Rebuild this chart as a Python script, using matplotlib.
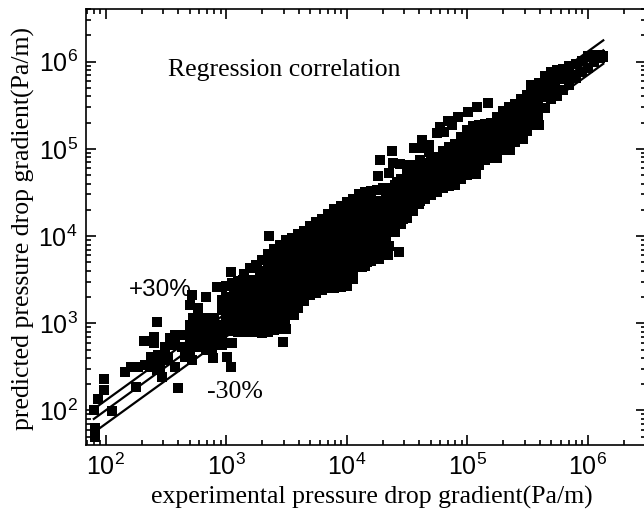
import numpy as np
import matplotlib
matplotlib.use('Agg')
from matplotlib import pyplot as plt
from matplotlib.ticker import LogLocator, NullFormatter

plt.rcParams['font.family'] = ['Liberation Serif', 'DejaVu Sans']
plt.rcParams['mathtext.fontset'] = 'custom'
plt.rcParams['mathtext.rm'] = 'Liberation Sans'
plt.rcParams['mathtext.it'] = 'Liberation Sans'
plt.rcParams['mathtext.bf'] = 'Liberation Sans'

# everything below is read off the picture, as log10(Pa/m)
# upper / lower edge of the dense band
edge_exp = [3.00, 3.05, 3.10, 3.15, 3.20, 3.25, 3.30, 3.35, 3.40, 3.45, 3.50, 3.55, 3.60, 3.65, 3.70, 3.75,
            3.80, 3.85, 3.90, 3.95, 4.00, 4.05, 4.10, 4.15, 4.20, 4.25, 4.30, 4.35, 4.40, 4.45, 4.50, 4.55,
            4.60, 4.65, 4.70, 4.75, 4.80, 4.85, 4.90, 4.95, 5.00, 5.05, 5.10, 5.15, 5.20, 5.25, 5.30, 5.35,
            5.40, 5.45, 5.50, 5.55, 5.60, 5.65, 5.70, 5.75, 5.80, 5.85, 5.90, 5.95, 6.00, 6.05, 6.10, 6.13]
edge_top = [3.43, 3.46, 3.49, 3.56, 3.63, 3.67, 3.73, 3.79, 3.85, 3.90, 3.95, 3.98, 4.02, 4.06, 4.11, 4.16,
            4.20, 4.25, 4.31, 4.35, 4.39, 4.43, 4.48, 4.51, 4.52, 4.53, 4.55, 4.55, 4.59, 4.65, 4.71, 4.76,
            4.81, 4.84, 4.88, 4.91, 4.97, 5.02, 5.06, 5.14, 5.22, 5.26, 5.27, 5.28, 5.30, 5.36, 5.43, 5.48,
            5.52, 5.57, 5.62, 5.70, 5.76, 5.83, 5.88, 5.90, 5.92, 5.95, 5.97, 6.01, 6.06, 6.08, 6.08, 6.06]
edge_bottom = [2.94, 2.91, 2.90, 2.90, 2.90, 2.90, 2.89, 2.90, 2.92, 2.93, 2.94, 3.09, 3.18, 3.25, 3.32, 3.35,
               3.38, 3.40, 3.41, 3.42, 3.43, 3.51, 3.64, 3.66, 3.71, 3.75, 3.83, 3.89, 4.05, 4.14, 4.21, 4.29,
               4.37, 4.42, 4.47, 4.51, 4.55, 4.57, 4.59, 4.65, 4.70, 4.76, 4.81, 4.87, 4.91, 4.95, 4.99, 5.04,
               5.08, 5.12, 5.21, 5.27, 5.27, 5.47, 5.57, 5.61, 5.67, 5.73, 5.81, 5.88, 5.93, 6.00, 6.04, 6.05]

# inside of the band, one list of predicted values per experimental value
core_exp = [3.00, 3.07, 3.14, 3.21, 3.28, 3.35, 3.42, 3.49, 3.56, 3.63, 3.70, 3.77, 3.84,
            3.91, 3.98, 4.05, 4.12, 4.19, 4.26, 4.33, 4.40, 4.47, 4.54, 4.61, 4.68, 4.75,
            4.82, 4.89, 4.96, 5.03, 5.10, 5.17, 5.24, 5.31, 5.38, 5.45, 5.52, 5.59, 5.66,
            5.73, 5.80, 5.87]
core_pred = [
    [3.0, 3.1, 3.2, 3.3],
    [3.0, 3.1, 3.2, 3.3, 3.4],
    [3.0, 3.1, 3.2, 3.3, 3.4, 3.5],
    [3.0, 3.1, 3.2, 3.3, 3.4, 3.5],
    [3.0, 3.1, 3.2, 3.3, 3.4, 3.5, 3.6],
    [3.0, 3.1, 3.2, 3.3, 3.4, 3.5, 3.6, 3.7],
    [3.0, 3.1, 3.2, 3.3, 3.4, 3.5, 3.6, 3.7, 3.8],
    [3.0, 3.1, 3.2, 3.3, 3.4, 3.5, 3.6, 3.7, 3.8, 3.9],
    [3.1, 3.2, 3.3, 3.4, 3.5, 3.6, 3.7, 3.8, 3.9],
    [3.3, 3.4, 3.5, 3.6, 3.7, 3.8, 3.9, 4.0],
    [3.4, 3.5, 3.6, 3.7, 3.8, 3.9, 4.0],
    [3.4, 3.5, 3.6, 3.7, 3.8, 3.9, 4.0, 4.1],
    [3.5, 3.6, 3.7, 3.8, 3.9, 4.0, 4.1, 4.2],
    [3.5, 3.6, 3.7, 3.8, 3.9, 4.0, 4.1, 4.2],
    [3.5, 3.6, 3.7, 3.8, 3.9, 4.0, 4.1, 4.2, 4.3],
    [3.6, 3.7, 3.8, 3.9, 4.0, 4.1, 4.2, 4.3, 4.4],
    [3.7, 3.8, 3.9, 4.0, 4.1, 4.2, 4.3, 4.4],
    [3.8, 3.9, 4.0, 4.1, 4.2, 4.3, 4.4],
    [3.8, 3.9, 4.0, 4.1, 4.2, 4.3, 4.4],
    [3.9, 4.0, 4.1, 4.2, 4.3, 4.4, 4.5],
    [4.1, 4.2, 4.3, 4.4, 4.5],
    [4.2, 4.3, 4.4, 4.5, 4.6],
    [4.3, 4.4, 4.5, 4.6, 4.7],
    [4.4, 4.5, 4.6, 4.7, 4.8],
    [4.5, 4.6, 4.7, 4.8],
    [4.6, 4.7, 4.8],
    [4.6, 4.7, 4.8, 4.9],
    [4.7, 4.8, 4.9, 5.0],
    [4.7, 4.8, 4.9, 5.0, 5.1],
    [4.8, 4.9, 5.0, 5.1, 5.2],
    [4.9, 5.0, 5.1, 5.2],
    [4.9, 5.0, 5.1, 5.2],
    [5.0, 5.1, 5.2, 5.3],
    [5.1, 5.2, 5.3, 5.4],
    [5.1, 5.2, 5.3, 5.4],
    [5.2, 5.3, 5.4, 5.5],
    [5.3, 5.4, 5.5, 5.6],
    [5.3, 5.4, 5.5, 5.6, 5.7],
    [5.6, 5.7, 5.8],
    [5.7, 5.8],
    [5.8],
    [5.85],
]

# points standing apart at the low end
low_exp = [1.913, 1.913, 1.913, 1.905, 1.938, 1.988, 1.988, 2.054, 2.162, 2.212, 2.253, 2.270, 2.328, 2.378,
           2.320, 2.402, 2.402, 2.427, 2.469, 2.452, 2.494, 2.600, 2.535, 2.494, 2.577, 2.643, 2.519, 2.635,
           2.718, 2.718, 2.726, 2.768, 2.701, 2.718, 2.834, 2.884, 2.784, 2.826, 2.892, 3.008, 3.041, 3.041,
           2.967, 2.768, 2.934, 2.851, 3.050, 2.660, 2.577, 2.427, 3.473, 3.423, 3.257, 3.357, 2.701, 2.768,
           2.834, 2.701, 2.768, 2.834, 2.900, 2.967, 2.967, 2.900, 2.834, 2.701, 2.967, 2.967, 2.925,
           2.884, 2.967, 2.369, 2.452, 2.435, 2.577, 2.701, 2.900, 2.900]
low_pred = [1.742, 1.800, 1.696, 2.006, 2.132, 2.235, 2.361, 1.994, 2.442, 2.499, 2.270, 2.499, 2.522, 2.614,
            2.797, 2.843, 2.774, 3.015, 2.384, 2.487, 2.579, 2.258, 2.831, 2.728, 2.866, 2.866, 2.614, 2.728,
            2.579, 2.923, 3.061, 3.175, 3.210, 3.325, 3.302, 3.038, 2.958, 2.808, 2.602, 2.614, 2.499, 3.588,
            3.416, 2.728, 2.808, 2.889, 2.774, 2.614, 2.499, 2.464, 2.786, 2.946, 3.657, 4.001, 2.980, 3.061,
            3.061, 2.808, 2.843, 2.946, 2.946, 2.980, 2.866, 2.751, 2.694, 2.694, 3.267, 3.153, 3.416,
            2.694, 2.751, 2.499, 2.579, 2.637, 2.751, 2.900, 2.855, 3.060]

# points standing apart further up, above and below the band
high_exp = [4.261, 4.344, 4.270, 4.170, 4.129, 4.436, 5.531, 5.174, 5.083, 5.008, 4.925, 4.842, 4.876, 4.776,
            4.751, 4.809, 4.627, 4.560, 4.685, 4.610, 4.685, 4.378, 4.278, 4.386, 4.444, 4.527, 4.610, 4.353,
            4.502, 4.419, 5.075, 5.465, 5.357, 5.249]
high_pred = [4.689, 3.783, 3.737, 3.703, 3.646, 3.818, 5.733, 5.527, 5.481, 5.423, 5.366, 5.320, 5.270, 5.251,
             5.182, 5.194, 5.102, 5.011, 5.045, 5.011, 4.965, 4.976, 4.873, 4.838, 4.827, 4.815, 4.873, 4.724,
             4.700, 4.620, 4.712, 5.113, 4.987, 4.896]

# +30 %, 0 and -30 % lines
line_x = [80, 1.35e6]
line_plus = [104, 1.755e6]
line_mid = [80, 1.35e6]
line_minus = [56, 9.45e5]

fig = plt.figure(figsize=(6.44, 5.13), dpi=100)
ax = fig.add_axes([86 / 644, (513 - 445) / 513, (646 - 86) / 644, (445 - 9) / 513])
ax.set_xscale('log')
ax.set_yscale('log')
ax.set_xlim(10 ** 1.838, 10 ** 6.485)
ax.set_ylim(10 ** 1.604, 10 ** 6.604)

xs = list(edge_exp) + list(edge_exp) + list(low_exp) + list(high_exp)
ys = list(edge_top) + list(edge_bottom) + list(low_pred) + list(high_pred)
for x, preds in zip(core_exp, core_pred):
    for p in preds:
        xs.append(x)
        ys.append(p)
ax.plot(10 ** np.array(xs), 10 ** np.array(ys), 's', color='black', ms=7.0, mew=0)

for line_y in (line_plus, line_mid, line_minus):
    ax.plot(line_x, line_y, '-', color='black', lw=1.6)

for side in ax.spines.values():
    side.set_linewidth(1.2)
for axis in (ax.xaxis, ax.yaxis):
    axis.set_major_locator(LogLocator(base=10, numticks=12))
    axis.set_minor_locator(LogLocator(base=10, subs=np.arange(2, 10), numticks=12))
    axis.set_minor_formatter(NullFormatter())
ax.tick_params(which='major', direction='in', length=7, width=1.2, top=True, right=True,
               labelsize=18, pad=6)
ax.tick_params(which='minor', direction='in', length=3.6, width=1.2, top=True, right=True)
for lab in ax.get_xticklabels() + ax.get_yticklabels():
    lab.set_family('Liberation Sans')

ax.text(330, 8.0e5, 'Regression correlation', fontsize=18.5, va='center', ha='left')
ax.text(157, 2400, '+30%', fontsize=17.5, va='center', ha='left', family='Liberation Sans')
ax.text(695, 163, '-30%', fontsize=18.5, va='center', ha='left')

fig.text(372 / 644, 1 - 497 / 513, 'experimental pressure drop gradient(Pa/m)', fontsize=18.5,
         ha='center', va='center')
fig.text(23 / 644, 1 - 228 / 513, 'predicted pressure drop gradient(Pa/m)', fontsize=18.5,
         ha='center', va='center', rotation=90)

fig.savefig('out.png', dpi=100)
